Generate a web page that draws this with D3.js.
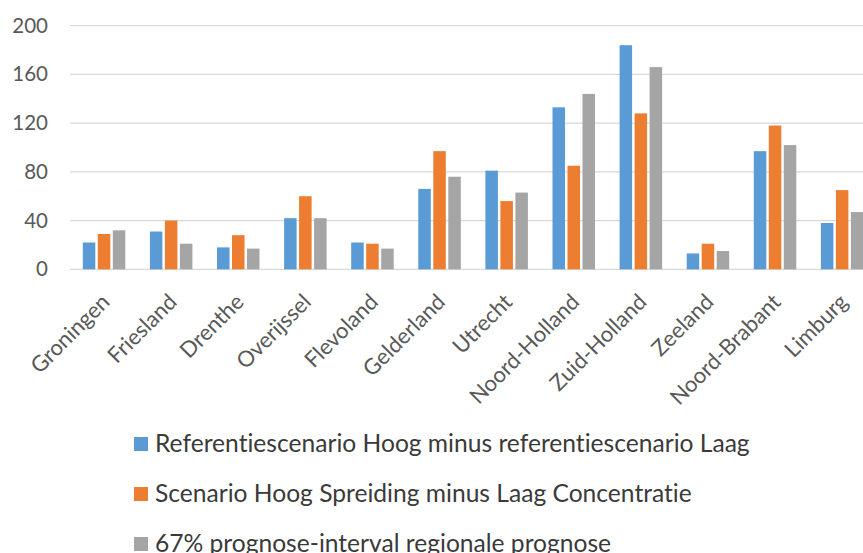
<!DOCTYPE html>
<html>
<head>
<meta charset="utf-8">
<script src="https://cdn.jsdelivr.net/npm/d3@7"></script>
<style>
  html, body { margin: 0; padding: 0; background: #fff; }
  svg { display: block; font-family: Lato, "Open Sans", sans-serif;
        font-variant-ligatures: none; font-feature-settings: "liga" 0, "clig" 0; }
</style>
</head>
<body>
<svg id="chart" width="863" height="553"></svg>
<script>
// Provinces on the x axis
const provinces = ["Groningen", "Friesland", "Drenthe", "Overijssel", "Flevoland", "Gelderland",
  "Utrecht", "Noord-Holland", "Zuid-Holland", "Zeeland", "Noord-Brabant", "Limburg"];

// Series names (legend order)
const seriesNames = [
  "Referentiescenario Hoog minus referentiescenario Laag",
  "Scenario Hoog Spreiding minus Laag Concentratie",
  "67% prognose-interval regionale prognose"
];

// Values per province for each series
const referentieVerschil = [22, 31, 18, 42, 22, 66, 81, 133, 184, 13, 97, 38];
const scenarioVerschil   = [29, 40, 28, 60, 21, 97, 56, 85, 128, 21, 118, 65];
const prognoseInterval   = [32, 21, 17, 42, 17, 76, 63, 144, 166, 15, 102, 47];

const yTicks = [0, 40, 80, 120, 160, 200];
const seriesColors = ["#5B9BD5", "#ED7D31", "#A5A5A5"];

const seriesValues = [referentieVerschil, scenarioVerschil, prognoseInterval];

const svg = d3.select("#chart");

const x = d3.scaleBand().domain(provinces).range([70.5, 70.5 + 12 * 67.1]).padding(0);
const y = d3.scaleLinear().domain([0, 200]).range([269.3, 25.7]);
const groupWidth = 42.5;
const xInner = d3.scaleBand().domain(d3.range(3)).range([0, groupWidth]).paddingInner(1 / 6).paddingOuter(0);

// Gridlines
svg.append("g").selectAll("line").data(yTicks).join("line")
  .attr("x1", 70).attr("x2", 863)
  .attr("y1", d => y(d)).attr("y2", d => y(d))
  .attr("stroke", "#D9D9D9").attr("stroke-width", 1.2);

// Y axis labels
const yAxis = svg.append("g").attr("transform", "translate(48,0)")
  .call(d3.axisLeft(y).tickValues(yTicks).tickSize(0).tickPadding(0));
yAxis.select(".domain").remove();
yAxis.selectAll("text")
  .attr("font-size", 20.5).attr("fill", "#595959")
  .attr("font-family", "Lato, 'Open Sans', sans-serif");

// Bars
const groups = svg.append("g").selectAll("g").data(provinces).join("g")
  .attr("transform", p => `translate(${x(p) + x.bandwidth() / 2 - groupWidth / 2},0)`);
groups.selectAll("rect")
  .data((p, i) => seriesValues.map((vals, s) => ({ s, v: vals[i] })))
  .join("rect")
  .attr("x", d => xInner(d.s))
  .attr("width", xInner.bandwidth())
  .attr("y", d => y(d.v))
  .attr("height", d => y(0) - y(d.v))
  .attr("fill", d => seriesColors[d.s]);

// X axis labels, rotated
const xAxis = svg.append("g").attr("transform", `translate(0,${y(0)})`)
  .call(d3.axisBottom(x).tickSize(0).tickPadding(0));
xAxis.select(".domain").remove();
xAxis.selectAll(".tick text")
  .attr("font-size", 22).attr("fill", "#595959")
  .attr("font-family", "Lato, 'Open Sans', sans-serif")
  .attr("text-anchor", "end")
  .attr("dy", 0)
  .attr("transform", "translate(7,34) rotate(-45)");

// Legend
const legend = svg.append("g").selectAll("g").data(seriesNames).join("g")
  .attr("transform", (d, i) => `translate(134,${437 + i * 50})`);
legend.append("rect").attr("width", 14).attr("height", 14)
  .attr("fill", (d, i) => seriesColors[i]);
legend.append("text")
  .attr("x", 21).attr("y", 14.5)
  .attr("font-size", 24.6).attr("fill", "#3a3a3a")
  .text(d => d);
</script>
</body>
</html>
